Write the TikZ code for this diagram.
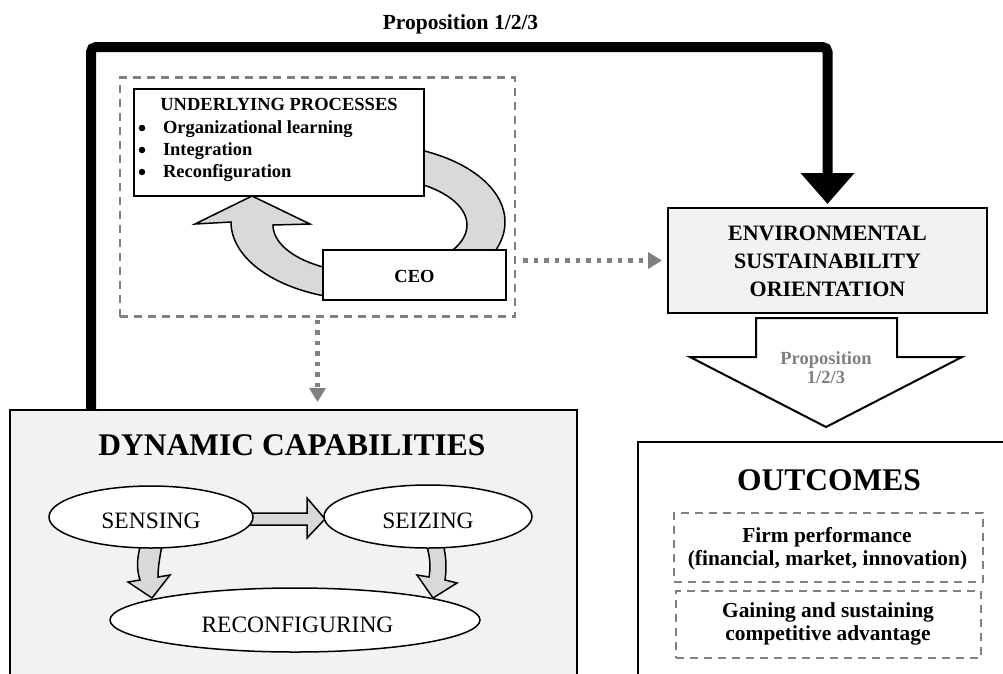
\documentclass[tikz,border=0pt]{standalone}
\usepackage{fontspec}
\setmainfont{Liberation Serif}
\usetikzlibrary{arrows.meta,shapes.geometric}
\definecolor{dgray}{RGB}{128,128,128}
\definecolor{afill}{RGB}{217,217,217}
\definecolor{bfill}{RGB}{242,242,242}
\newcommand{\fsz}[1]{\fontsize{#1}{#1}\selectfont}
\begin{document}
\begin{tikzpicture}[x=1pt,y=-1pt,
  box/.style={draw, line width=1.5pt, inner sep=0pt, outer sep=0pt, rectangle},
  dbox/.style={draw=dgray, dash pattern=on 8pt off 6pt, line width=2.5pt, inner sep=0pt, outer sep=0pt, rectangle},
  oval/.style={draw, ellipse, fill=white, line width=1.5pt, inner sep=0pt, outer sep=0pt},
  txt/.style={anchor=base, inner sep=0pt, outer sep=0pt},
  bul/.style={circle, fill=black, inner sep=0pt, outer sep=0pt, minimum size=6.5pt},
  blockarrow/.style={fill=afill, draw=black, line width=1.5pt, line join=miter},
  dotarrow/.style={draw=dgray, line width=4.5pt, dash pattern=on 4.5pt off 6pt, -{Triangle[length=14pt,width=16pt]}},
  bigline/.style={line width=10pt, rounded corners=5pt, -{Triangle[length=31pt,width=52pt]}},
  bf/.style={font=\bfseries\fsz{#1}},
  rm/.style={font=\fsz{#1}}
]
\useasboundingbox (0,0) rectangle (1003,673);

% ---------- boxes ----------
\node[box, line width=2pt, fill=bfill, minimum width=567pt, minimum height=280pt] (dc) at (293.5,550) {};
\node[box, line width=2pt, fill=white, minimum width=382pt, minimum height=248pt] (out) at (829,566) {};
\node[box, line width=2pt, fill=bfill, minimum width=319pt, minimum height=105pt] (eso) at (827.5,260.5) {};
\node[dbox, minimum width=395pt, minimum height=239pt] (dash) at (317.5,197) {};
\node[dbox, minimum width=309pt, minimum height=69pt] (fp) at (828.5,547.5) {};
\node[dbox, minimum width=305pt, minimum height=67pt] (ca) at (828.5,624.5) {};

% ---------- circular arrows (under the boxes) ----------
\filldraw[blockarrow]
  plot[domain=-100:40, samples=60] ({368+137*cos(\x)},{222+78*sin(\x)})
  -- plot[domain=40:-100, samples=60] ({370+97*cos(\x)},{225+48*sin(\x)}) -- cycle;
\filldraw[blockarrow]
  plot[domain=80:180, samples=50] ({368+137*cos(\x)},{222+78*sin(\x)})
  -- (195,224) -- (252,196) -- (310,224)
  -- plot[domain=180:80, samples=50] ({370+97*cos(\x)},{225+48*sin(\x)}) -- cycle;

\node[box, fill=white, minimum width=290pt, minimum height=107pt] (up) at (279,142.5) {};
\node[box, fill=white, minimum width=183pt, minimum height=50pt] (ceo) at (414.5,275) {};

% ---------- thick proposition connector ----------
\coordinate (loop) at (91,47);
\draw[bigline, shorten >=4pt] (loop |- dc.north) -- (loop) -| (eso.north);
\node[txt, bf=21.5] (ptop) at (460.5,29) {Proposition 1/2/3};

% ---------- dotted connectors ----------
\draw[dotarrow, shorten <=8pt, shorten >=6pt] (dash.east |- eso.west) -- (eso.west);
\draw[dotarrow, shorten <=3pt, shorten >=8pt] (dash.south) -- (dash.south |- dc.north);

% ---------- hollow arrow ESO -> outcomes ----------
\filldraw[fill=white, draw=black, line width=2pt, line join=miter]
  (756,318) -- (897,318) -- (897,357) -- (962,357) -- (826,427) -- (690,357) -- (756,357) -- cycle;
\node[txt, bf=18.5, text=dgray] (pa1) at (826,364) {Proposition};
\node[txt, bf=18.5, text=dgray] (pa2) at (826,383) {1/2/3};

% ---------- dynamic capabilities arrows ----------
\filldraw[blockarrow] (245,513) -- (307,513) -- (307,498) -- (325,519) -- (307,538) -- (307,525) -- (245,525) -- cycle;
\filldraw[blockarrow] (142,540) .. controls (137,556) and (136,568) .. (140,580)
  -- (128,582) -- (152,598) -- (170,575) -- (158,577)
  .. controls (158,566) and (160,556) .. (163,540) -- cycle;
\filldraw[blockarrow] (425,540) .. controls (430,555) and (431,566) .. (429,577)
  -- (417,575) -- (433,598) -- (457,583) -- (445,580)
  .. controls (447,566) and (446,554) .. (442,540) -- cycle;

\node[oval, minimum width=204pt, minimum height=62pt] (sens) at (151,517) {};
\node[oval, minimum width=208pt, minimum height=63pt] (seiz) at (428,516.5) {};
\node[oval, minimum width=370pt, minimum height=64pt] (reco) at (295,620) {};

% ---------- texts ----------
\node[txt, bf=18.5] (tup) at (279,110) {UNDERLYING PROCESSES};
\node[bul] (b1) at (142,128) {};
\node[bul] (b2) at (142,150) {};
\node[bul] (b3) at (142,172) {};
\node[txt, anchor=base west, bf=18.5] (i1) at (163,133) {Organizational learning};
\node[txt, anchor=base west, bf=18.5] (i2) at (163,155) {Integration};
\node[txt, anchor=base west, bf=18.5] (i3) at (163,177) {Reconfiguration};
\node[txt, bf=18.5] (tceo) at (414.5,282) {CEO};

\node[txt, bf=22] (e1) at (827.5,240) {ENVIRONMENTAL};
\node[txt, bf=22] (e2) at (827.5,268) {SUSTAINABILITY};
\node[txt, bf=22] (e3) at (827.5,296) {ORIENTATION};

\node[txt, bf=31.5] (tdc) at (292,455) {DYNAMIC CAPABILITIES};
\node[txt, rm=23.5] (tsens) at (151,528) {SENSING};
\node[txt, rm=23.5] (tseiz) at (428,528) {SEIZING};
\node[txt, rm=23.5] (treco) at (297.5,632) {RECONFIGURING};

\node[txt, bf=31.5] (tout) at (829,490) {OUTCOMES};
\node[txt, bf=21.4] (f1) at (827,542) {Firm performance};
\node[txt, bf=21.4] (f2) at (827.5,565) {(financial, market, innovation)};
\node[txt, bf=21.4] (g1) at (828,617) {Gaining and sustaining};
\node[txt, bf=21.4] (g2) at (828,640) {competitive advantage};
\end{tikzpicture}
\end{document}
